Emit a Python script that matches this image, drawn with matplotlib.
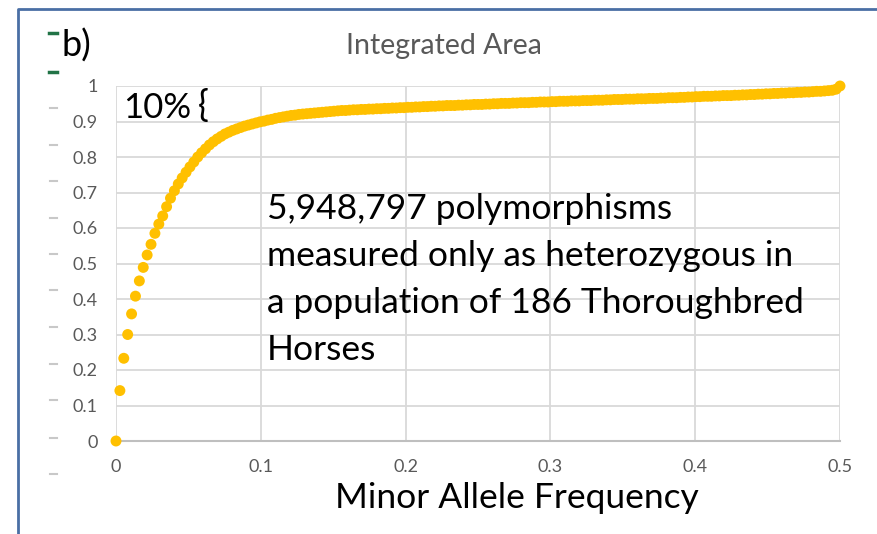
import matplotlib.pyplot as plt
from matplotlib.lines import Line2D

W, H = 877, 534

# cumulative fraction of polymorphisms vs minor allele count (2N = 372 alleles)
n_alleles = 372
allele_count = list(range(187))
maf = [k / n_alleles for k in allele_count]
integrated_area = [
    0.000, 0.142, 0.233, 0.300, 0.358, 0.408, 0.451, 0.489, 0.524, 0.554,
    0.585, 0.611, 0.634, 0.660, 0.684, 0.705, 0.724, 0.741, 0.757, 0.772,
    0.786, 0.800, 0.812, 0.823, 0.834, 0.843, 0.851, 0.858, 0.865, 0.870,
    0.875, 0.879, 0.883, 0.887, 0.890, 0.893, 0.896, 0.899, 0.901, 0.904,
    0.906, 0.909, 0.911, 0.913, 0.915, 0.917, 0.918, 0.920, 0.921, 0.922,
    0.923, 0.924, 0.925, 0.926, 0.927, 0.928, 0.929, 0.930, 0.931, 0.931,
    0.932, 0.933, 0.933, 0.934, 0.934, 0.935, 0.935, 0.936, 0.936, 0.937,
    0.937, 0.938, 0.938, 0.939, 0.939, 0.940, 0.940, 0.941, 0.941, 0.942,
    0.942, 0.943, 0.943, 0.944, 0.944, 0.945, 0.945, 0.945, 0.946, 0.946,
    0.947, 0.947, 0.948, 0.948, 0.948, 0.949, 0.949, 0.950, 0.950, 0.951,
    0.951, 0.951, 0.952, 0.952, 0.953, 0.953, 0.953, 0.954, 0.954, 0.955,
    0.955, 0.955, 0.956, 0.956, 0.957, 0.957, 0.957, 0.958, 0.958, 0.958,
    0.959, 0.959, 0.959, 0.960, 0.960, 0.960, 0.961, 0.961, 0.962, 0.962,
    0.962, 0.963, 0.963, 0.963, 0.964, 0.964, 0.964, 0.965, 0.965, 0.965,
    0.966, 0.966, 0.967, 0.967, 0.967, 0.968, 0.968, 0.969, 0.969, 0.970,
    0.970, 0.971, 0.971, 0.971, 0.972, 0.972, 0.973, 0.973, 0.973, 0.974,
    0.974, 0.975, 0.975, 0.976, 0.976, 0.977, 0.977, 0.978, 0.978, 0.979,
    0.979, 0.980, 0.980, 0.981, 0.981, 0.982, 0.982, 0.983, 0.983, 0.984,
    0.985, 0.985, 0.986, 0.987, 0.988, 0.991, 1.000,
]

x_ticks = [0, 0.1, 0.2, 0.3, 0.4, 0.5]
x_tick_labels = ["0", "0.1", "0.2", "0.3", "0.4", "0.5"]
y_ticks = [0, 0.1, 0.2, 0.3, 0.4, 0.5, 0.6, 0.7, 0.8, 0.9, 1.0]
y_tick_labels = ["0", "0.1", "0.2", "0.3", "0.4", "0.5", "0.6", "0.7", "0.8", "0.9", "1"]

note_text = ("5,948,797 polymorphisms\nmeasured only as heterozygous in\n"
             "a population of 186 Thoroughbred\nHorses")

FONT = ["Lato", "DejaVu Sans"]
GRAY = "#595959"


def fx(px):
    return px / W


def fy(py):
    return 1 - py / H


def main() -> None:
    fig = plt.figure(figsize=(W / 100, H / 100), dpi=100)
    ax = fig.add_axes([fx(116), fy(441), fx(840) - fx(116), fy(86) - fy(441)])

    ax.scatter(maf, integrated_area, s=62, color="#FFC000", edgecolors="none",
               zorder=3, clip_on=False)

    ax.set_xlim(0, 0.5)
    ax.set_ylim(0, 1)
    ax.set_xticks(x_ticks)
    ax.set_xticklabels(x_tick_labels)
    ax.set_yticks(y_ticks)
    ax.set_yticklabels(y_tick_labels)
    ax.tick_params(length=0, labelsize=13, labelcolor=GRAY)
    ax.tick_params(axis="y", pad=13)
    ax.tick_params(axis="x", pad=13)
    for lab in ax.get_xticklabels() + ax.get_yticklabels():
        lab.set_family(FONT)
    ax.grid(True, color="#d9d9d9", linewidth=1.3)
    ax.set_axisbelow(True)
    for side in ["top", "right", "left"]:
        ax.spines[side].set_visible(False)
    ax.spines["bottom"].set_color("#bfbfbf")
    ax.spines["bottom"].set_linewidth(1.5)

    ax.text(0.1043, 0.70, note_text, fontsize=25.5, family=FONT, va="top",
            ha="left", linespacing=1.58, zorder=1)

    fig.text(fx(123), fy(118), "10%", fontsize=25, family=FONT,
             va="baseline", ha="left")
    fig.text(fx(198), fy(117), "{", fontsize=26, family=FONT,
             va="baseline", ha="left")
    fig.text(fx(444), fy(46), "Integrated Area", fontsize=20.5, color=GRAY,
             family=FONT, va="center", ha="center")
    fig.text(fx(61), fy(57), "b)", fontsize=26, family=FONT, va="baseline",
             ha="left")
    fig.text(fx(517), fy(508), "Minor Allele Frequency", fontsize=25.5,
             family=FONT, va="baseline", ha="center")

    # frame and stray marks of the original screenshot
    fig.add_artist(Line2D([fx(18), fx(18), 1], [0, fy(9), fy(9)],
                          color="#4a6fa5", linewidth=2))
    for py in [108, 145, 181, 218, 254, 290, 327, 364, 400, 438, 474]:
        fig.add_artist(Line2D([fx(50), fx(57)], [fy(py), fy(py)],
                              color="#c8c8c8", linewidth=1.5))
    for py in [33, 72]:
        fig.add_artist(Line2D([fx(49), fx(57)], [fy(py), fy(py)],
                              color="#217346", linewidth=2.5))

    fig.savefig("out.png", dpi=100)
    plt.close(fig)


if __name__ == "__main__":
    main()
